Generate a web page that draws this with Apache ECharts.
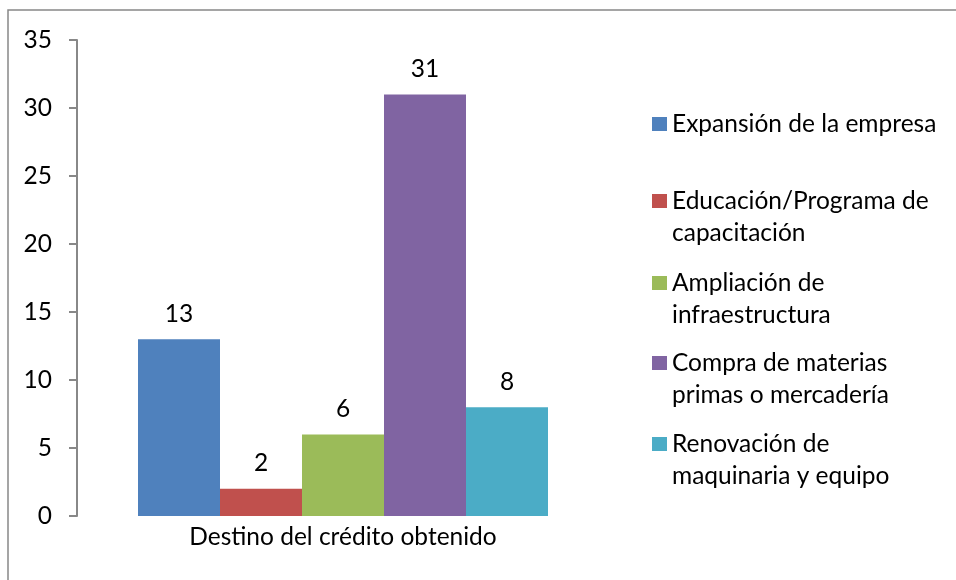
<!DOCTYPE html>
<html>
<head>
<meta charset="utf-8">
<title>Destino del crédito obtenido</title>
<script src="https://cdn.jsdelivr.net/npm/echarts@6/dist/echarts.min.js"></script>
<style>
  html, body { margin: 0; padding: 0; background: #fff; }
  #chart { width: 956px; height: 580px; }
</style>
</head>
<body>
<div id="chart"></div>
<script>
// Chart data
const categories = ['Destino del crédito obtenido'];
const seriesNames = [
  'Expansión de la empresa',
  'Educación/Programa de\ncapacitación',
  'Ampliación de\ninfraestructura',
  'Compra de materias\nprimas o mercadería',
  'Renovación de\nmaquinaria y equipo'
];
const seriesValues = [13, 2, 6, 31, 8];
const yTicks = { min: 0, max: 35, interval: 5 };

const colors = ['#4F81BD', '#C0504D', '#9BBB59', '#8064A2', '#4BACC6'];
const FONT = 'Lato';
const FONT_SIZE = 24.5;
const LINE_H = 32;
const legendIconCenters = [124, 201, 283, 363, 444];

const chart = echarts.init(document.getElementById('chart'), null, { renderer: 'canvas' });

const series = seriesNames.map((name, i) => ({
  name: name,
  type: 'bar',
  data: [seriesValues[i]],
  barWidth: 82,
  barGap: '0%',
  itemStyle: { color: colors[i] },
  label: {
    show: true,
    position: 'top',
    distance: 13,
    color: '#000',
    fontFamily: FONT,
    fontSize: FONT_SIZE
  }
}));

// One legend block per entry; blank leading lines keep the icon beside the first text line
const legends = seriesNames.map((name, i) => {
  const lines = name.split('\n').length;
  const totalLines = lines * 2 - 1;
  return {
    data: [name],
    left: 652,
    top: legendIconCenters[i] - (totalLines * LINE_H) / 2,
    padding: 0,
    itemWidth: 15,
    itemHeight: 14,
    itemGap: 0,
    icon: 'rect',
    selectedMode: false,
    formatter: (n) => '\n'.repeat(lines - 1) + n,
    textStyle: {
      fontFamily: FONT,
      fontSize: FONT_SIZE,
      color: '#000',
      lineHeight: LINE_H
    }
  };
});

chart.setOption({
  animation: false,
  backgroundColor: '#fff',
  color: colors,
  grid: { left: 77, right: 347, top: 40, bottom: 64, containLabel: false },
  legend: legends,
  xAxis: {
    type: 'category',
    data: categories,
    axisLine: { show: false },
    axisTick: { show: false },
    axisLabel: {
      margin: 9,
      color: '#000',
      fontFamily: FONT,
      fontSize: FONT_SIZE
    }
  },
  yAxis: {
    type: 'value',
    min: yTicks.min,
    max: yTicks.max,
    interval: yTicks.interval,
    splitLine: { show: false },
    axisLine: { show: true, lineStyle: { color: '#888', width: 2 } },
    axisTick: { show: true, length: 8, lineStyle: { color: '#888', width: 2 } },
    axisLabel: {
      margin: 25,
      color: '#000',
      fontFamily: FONT,
      fontSize: FONT_SIZE
    }
  },
  graphic: [{
    type: 'rect',
    silent: true,
    shape: { x: 8, y: 10, width: 1200, height: 1200 },
    style: { fill: 'none', stroke: '#888', lineWidth: 1.5 }
  }],
  series: series
});
</script>
</body>
</html>
